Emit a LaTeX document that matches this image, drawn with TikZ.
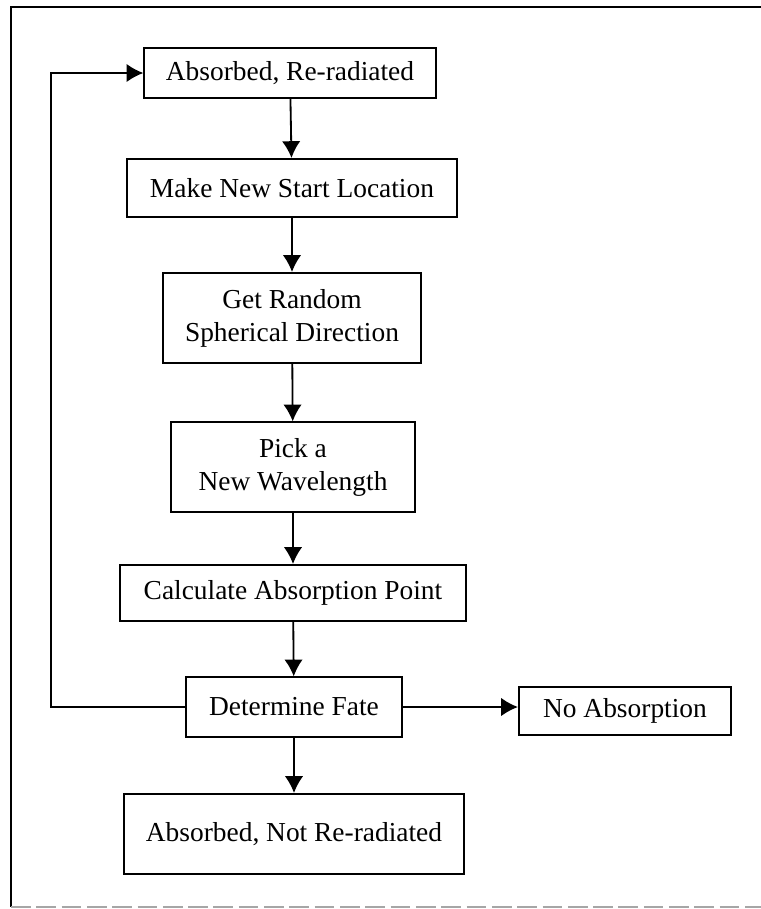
\documentclass[tikz,border=0pt]{standalone}
\usepackage{fontspec}
\setmainfont{Liberation Serif}
\usetikzlibrary{%
  arrows.meta,%
  calc%
}
\tikzset{>={Latex[length=0.42cm,width=0.46cm]}}
\tikzset{stepbox/.style = {draw, line width=1.4pt, inner sep=0pt, align=center,
        font=\fontsize{19.5}{23.5}\selectfont},%
        flow/.style={->, line width=1.3pt}}

\begin{document}
\begin{tikzpicture}[x=0.025cm,y=-0.025cm]
    \useasboundingbox (0,0) rectangle (761,909);
    \draw[line width=2pt] (761,7) -- (11,7) -- (11,907);
    \draw[black!35,line width=0.8pt,dash pattern=on 14pt off 4pt] (11,907) -- (761,907);
    \node[stepbox,minimum width=7.28cm,minimum height=1.25cm] (absre) at (290,73) {Absorbed, Re-radiated};
    \node[stepbox,minimum width=8.25cm,minimum height=1.45cm] (start) at (292,188) {Make New Start Location};
    \node[stepbox,minimum width=6.45cm,minimum height=2.25cm] (sphdir) at (292,318) {Get Random\\Spherical Direction};
    \node[stepbox,minimum width=6.08cm,minimum height=2.23cm] (wave) at (293,467) {Pick a\\New Wavelength};
    \node[stepbox,minimum width=8.65cm,minimum height=1.4cm] (calc) at (293,593) {Calculate Absorption Point};
    \node[stepbox,minimum width=5.38cm,minimum height=1.48cm] (fate) at (294,707) {Determine Fate};
    \node[stepbox,minimum width=5.3cm,minimum height=1.2cm] (noabs) at (625,711) {No Absorption};
    \node[stepbox,minimum width=8.5cm,minimum height=2cm] (absnot) at (294,834) {Absorbed, Not Re-radiated};
    \coordinate (loop) at (51,707);
    \draw[flow] (absre) -- (start);
    \draw[flow] (start) -- (sphdir);
    \draw[flow] (sphdir) -- (wave);
    \draw[flow] (wave) -- (calc);
    \draw[flow] (calc) -- (fate);
    \draw[flow] (fate) -- (absnot);
    \draw[flow] (fate.east) -- (fate.east -| noabs.west);
    \draw[flow] (fate.west) -- (loop) |- (absre.west);
\end{tikzpicture}
\end{document}
